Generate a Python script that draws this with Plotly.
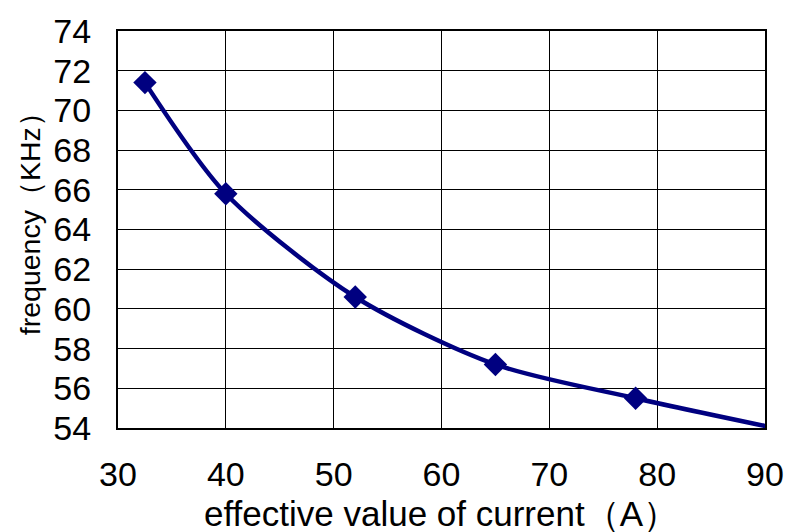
import plotly.graph_objects as go

# Data
current_pts = [32.5, 40, 52, 65, 78]
freq_pts = [71.4, 65.8, 60.6, 57.2, 55.5]
current_tail = [90.9]
freq_tail = [54.0]
x_ticks = [30, 40, 50, 60, 70, 80, 90]
y_ticks = [54, 56, 58, 60, 62, 64, 66, 68, 70, 72, 74]
x_title = "effective value of current（A）"
y_title = "frequency（KHz）"

navy = "#000080"
font_main = "Liberation Sans, Arial, sans-serif"

W, H = 796, 532
L, R, T, B = 118, 23, 27, 104

fig = go.Figure()
fig.add_trace(go.Scatter(
    x=current_pts + current_tail, y=freq_pts + freq_tail,
    mode="lines", line=dict(color=navy, width=4.5, shape="spline", smoothing=0.8),
    showlegend=False, hoverinfo="skip"))
fig.add_trace(go.Scatter(
    x=current_pts, y=freq_pts, mode="markers",
    marker=dict(symbol="diamond", size=18, color=navy),
    showlegend=False, cliponaxis=False))

axis_common = dict(
    showgrid=True, gridcolor="black", gridwidth=1,
    showline=True, linecolor="black", linewidth=2, mirror=True,
    ticks="inside", ticklen=8, tickcolor="black", tickwidth=1,
    tickfont=dict(size=34, family=font_main, color="black"), zeroline=False,
)

fig.update_layout(
    width=W, height=H,
    margin=dict(l=L, r=R, t=T, b=B),
    paper_bgcolor="white", plot_bgcolor="white",
    font=dict(family=font_main, color="black"),
    xaxis=dict(range=[30, 90], tickvals=x_ticks, ticktext=[str(v) for v in x_ticks],
               ticklabelstandoff=15, **axis_common),
    yaxis=dict(range=[54, 74], tickvals=y_ticks, ticktext=[str(v) for v in y_ticks],
               ticklabelstandoff=18, **axis_common),
    annotations=[
        dict(text=x_title, xref="paper", yref="paper",
             x=(445 - L) / (W - L - R), y=-(514 - (H - B)) / (H - T - B),
             xanchor="center", yanchor="middle", showarrow=False,
             font=dict(size=35, family=font_main, color="black")),
        dict(text=y_title, xref="paper", yref="paper",
             x=-(L - 29) / (W - L - R), y=((H - B) - 215) / (H - T - B), textangle=-90,
             xanchor="center", yanchor="middle", showarrow=False,
             font=dict(size=28.5, family=font_main, color="black")),
    ],
)

fig.write_html("out.html")
